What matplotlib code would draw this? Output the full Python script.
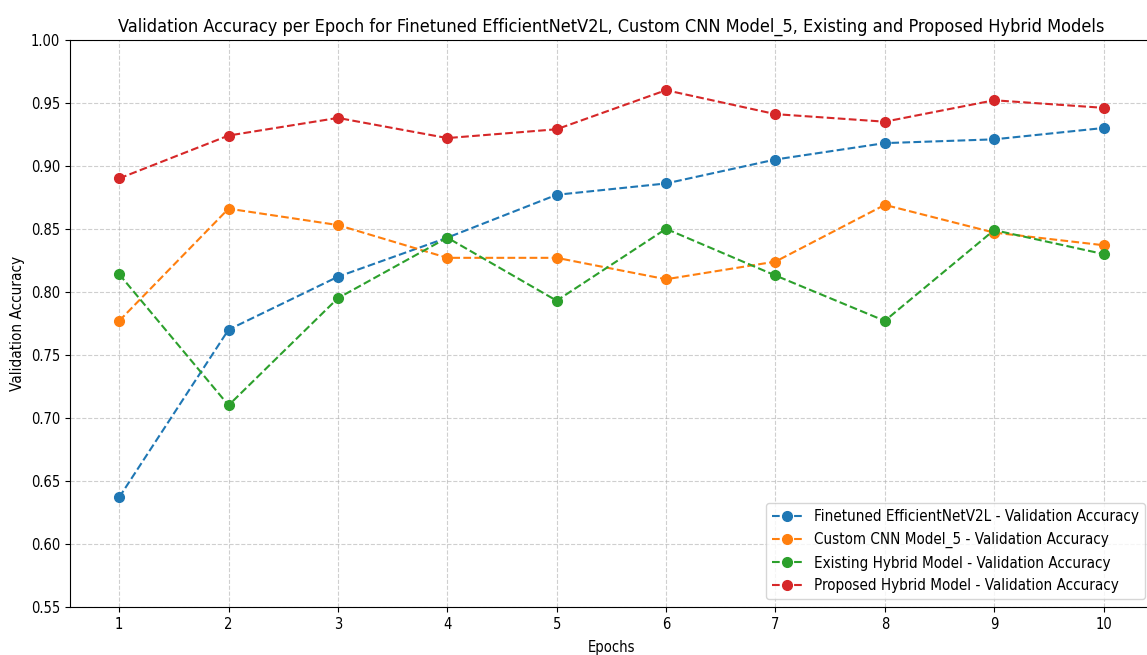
import matplotlib.pyplot as plt
import numpy as np

epochs = list(range(1, 11))
efficientnet_acc = [0.637, 0.770, 0.812, 0.843, 0.877, 0.886, 0.905, 0.918, 0.921, 0.930]
custom_cnn_acc = [0.777, 0.866, 0.853, 0.827, 0.827, 0.810, 0.824, 0.869, 0.847, 0.837]
existing_hybrid_acc = [0.814, 0.710, 0.795, 0.843, 0.793, 0.850, 0.813, 0.777, 0.849, 0.830]
proposed_hybrid_acc = [0.890, 0.924, 0.938, 0.922, 0.929, 0.960, 0.941, 0.935, 0.952, 0.946]

labels = ['Finetuned EfficientNetV2L - Validation Accuracy',
          'Custom CNN Model_5 - Validation Accuracy',
          'Existing Hybrid Model - Validation Accuracy',
          'Proposed Hybrid Model - Validation Accuracy']

plt.rcParams['font.family'] = ['DejaVu Sans']
plt.rcParams['font.stretch'] = 'condensed'

fig = plt.figure(figsize=(11.47, 6.55), dpi=100)
ax = fig.add_axes([0.061, 0.0733, 0.944, 0.866])

for vals, lab in zip([efficientnet_acc, custom_cnn_acc, existing_hybrid_acc, proposed_hybrid_acc], labels):
    ax.plot(epochs, vals, linestyle='--', marker='o', markersize=7, linewidth=1.5, label=lab)

ax.set_ylim(0.55, 1.00)
ax.set_xticks(epochs)
ax.grid(True, linestyle='--', alpha=0.6)
ax.tick_params(labelsize=10.5)
ax.set_xlabel('Epochs', fontsize=10.5, labelpad=6)
ax.set_ylabel('Validation Accuracy', fontsize=11)
ax.set_title('Validation Accuracy per Epoch for Finetuned EfficientNetV2L, Custom CNN Model_5, Existing and Proposed Hybrid Models', fontsize=13)
ax.legend(loc='lower right', fontsize=10.9)

fig.savefig('out.png', dpi=100)
